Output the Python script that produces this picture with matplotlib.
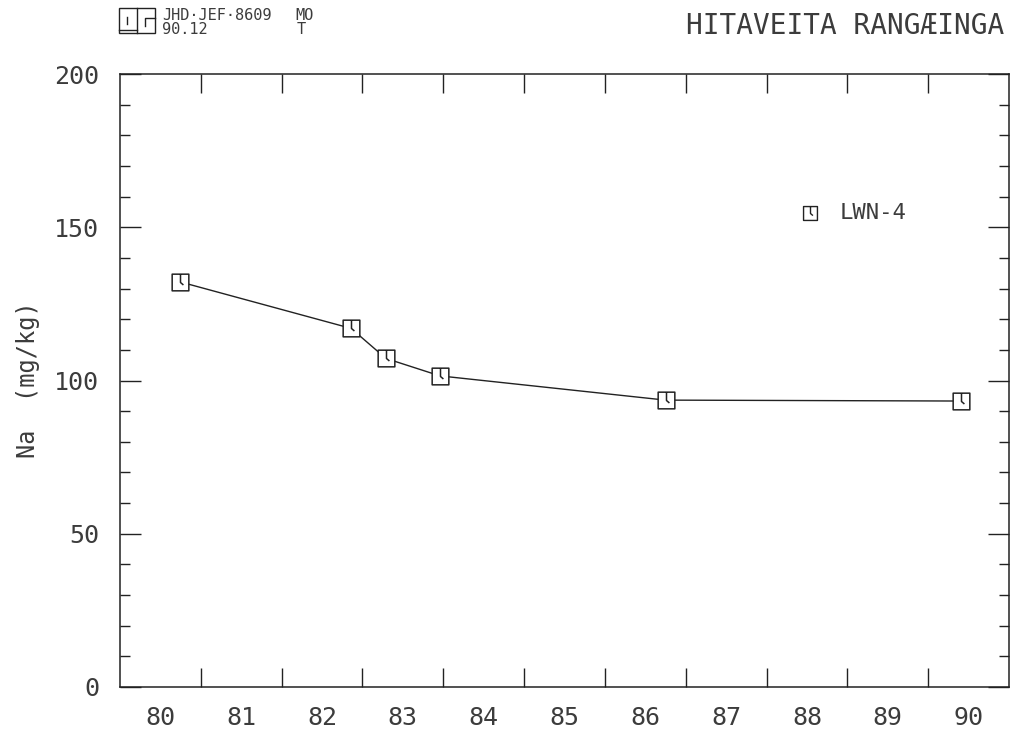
import matplotlib
matplotlib.use("Agg")
import matplotlib.pyplot as plt
from matplotlib.path import Path
from matplotlib.ticker import MultipleLocator, FixedLocator, NullFormatter, FixedFormatter
from matplotlib.patches import Rectangle
from matplotlib.lines import Line2D

# data
years = [80.74, 82.86, 83.29, 83.96, 86.75, 90.40]
na = [132.2, 117.0, 107.2, 101.5, 93.6, 93.3]
series_name = "LWN-4"
year_labels = ["80", "81", "82", "83", "84", "85", "86", "87", "88", "89", "90"]
title = "HITAVEITA RANGÆINGA"
ylabel = "Na  (mg/kg)"

plt.rcParams["font.family"] = ["DejaVu Sans Mono", "DejaVu Sans"]

ink = "#222222"
tink = "#3c3c3c"
W, H = 1015, 737
fig = plt.figure(figsize=(W / 100, H / 100), dpi=100)
ax = fig.add_axes([120 / W, 1 - 687 / H, (1009 - 120) / W, (687 - 74) / H])

verts = [(-1, -1), (1, -1), (1, 1), (-1, 1), (-1, -1), (0, 1), (0, 0), (0.35, -0.3)]
codes = [Path.MOVETO, Path.LINETO, Path.LINETO, Path.LINETO, Path.CLOSEPOLY,
         Path.MOVETO, Path.LINETO, Path.LINETO]
mk = Path(verts, codes)

ax.plot(years, na, color=ink, lw=1.0, marker=mk, markersize=12,
        markerfacecolor="white", markeredgecolor=ink, markeredgewidth=1.1)

# legend entry
ax.plot([88.54], [154.6], linestyle="none", marker=mk, markersize=10,
        markerfacecolor="white", markeredgecolor=ink, markeredgewidth=1.0)
ax.text(88.9, 154.6, series_name, fontsize=16, color=tink, va="center", ha="left")

ax.set_xlim(80, 91)
ax.set_ylim(0, 200)

ax.xaxis.set_major_locator(FixedLocator(list(range(81, 91))))
ax.xaxis.set_major_formatter(NullFormatter())
centers = [int(l) + 0.5 for l in year_labels]
ax.xaxis.set_minor_locator(FixedLocator(centers))
ax.xaxis.set_minor_formatter(FixedFormatter(year_labels))
ax.tick_params(axis="x", which="major", direction="in", length=14, width=1.0,
               top=True, bottom=True, color=ink)
ax.tick_params(axis="x", which="minor", length=0, pad=14, labelsize=18, labelcolor=tink)

ax.yaxis.set_major_locator(MultipleLocator(50))
ax.yaxis.set_minor_locator(MultipleLocator(10))
ax.tick_params(axis="y", which="major", direction="in", length=15, width=1.0,
               left=True, right=True, labelsize=18, labelcolor=tink, pad=15, color=ink)
ax.tick_params(axis="y", which="minor", direction="in", length=7, width=1.0,
               left=True, right=True, color=ink)

for s in ax.spines.values():
    s.set_color(ink)
    s.set_linewidth(1.1)

fig.text(28 / W, 1 - 380 / H, ylabel, rotation=90, fontsize=17, color=tink,
         ha="center", va="center")

fig.text(1004 / W, 1 - 26 / H, title, fontsize=20, color=tink, ha="right",
         va="center")

# header logo
lx0, ly0, lw, lh = 119, 8, 36, 25
fig.patches.append(Rectangle((lx0 / W, 1 - (ly0 + lh) / H), lw / W, lh / H,
                             transform=fig.transFigure, fill=False, ec=ink, lw=1.0))
def fl(xs, ys):
    fig.lines.append(Line2D([x / W for x in xs], [1 - y / H for y in ys],
                            transform=fig.transFigure, color=ink, lw=1.0))
fl([137, 137], [8, 33])
fl([127, 127], [17, 24])
fl([155, 145, 145], [18, 18, 26])
fl([119, 137], [30, 30])

fig.text(162 / W, 1 - 15 / H, "JHD·JEF·8609", fontsize=11, color=tink, ha="left",
         va="center")
fig.text(295 / W, 1 - 15 / H, "MO", fontsize=11, color=tink, ha="left", va="center")
fig.text(162 / W, 1 - 29 / H, "90.12", fontsize=11, color=tink, ha="left", va="center")
fig.text(297 / W, 1 - 29 / H, "T", fontsize=11, color=tink, ha="left", va="center")

fig.savefig("out.png", dpi=100)
